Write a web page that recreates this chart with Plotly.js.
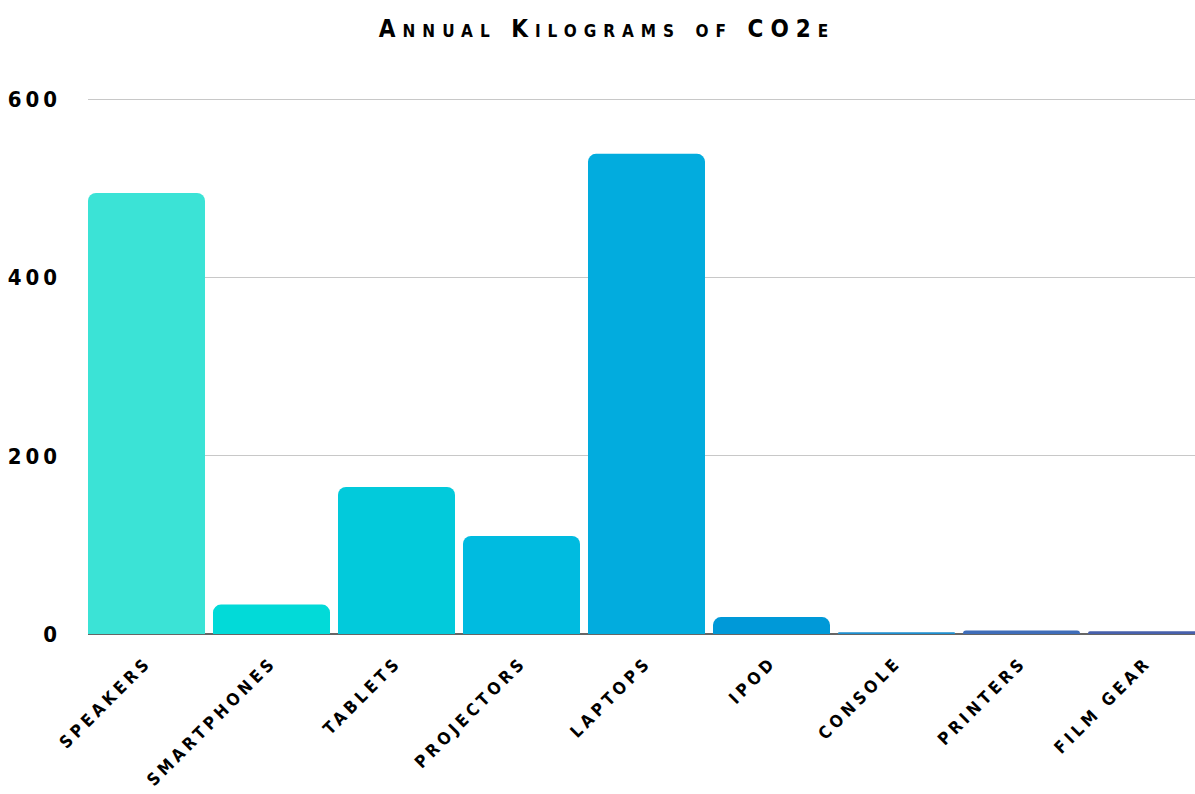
<!DOCTYPE html>
<html>
<head>
<meta charset="utf-8">
<script src="https://cdn.plot.ly/plotly-3.0.1.min.js"></script>
<style>
html,body{margin:0;padding:0;background:#fff;}
#chart{width:1195px;height:794px;}
.xtick text{letter-spacing:4px;}
.ytick text{letter-spacing:4px;}
.gtitle{letter-spacing:7px;}
</style>
</head>
<body>
<div id="chart"></div>
<script>
const categories = ["Speakers","Smartphones","Tablets","Projectors","Laptops","iPod","Console","Printers","Film gear"];
const values = [495, 33, 165, 110, 539, 19, 2, 4, 3];
const barColors = ["#3BE3D6","#02DAD8","#02CADB","#00BBE0","#02ACDE","#0099D8","#1E8FD0","#3F6DB9","#4760AC"];
const yTicks = [0, 200, 400, 600];
const titleText = "Annual Kilograms of CO2e";

const fontFamily = "'DejaVu Sans Condensed', 'Open Sans', sans-serif";

const data = [{
  type: "bar",
  x: categories,
  y: values,
  marker: { color: barColors, cornerradius: 8, line: { width: 0 } },
  hoverinfo: "x+y"
}];

const layout = {
  width: 1195,
  height: 794,
  paper_bgcolor: "#ffffff",
  plot_bgcolor: "#ffffff",
  margin: { l: 88, r: 0, t: 95, b: 160 },
  bargap: 0.064,
  title: {
    text: titleText,
    x: 0.508,
    xref: "container",
    xanchor: "center",
    y: 0.964,
    yanchor: "middle",
    font: { family: fontFamily, size: 24, color: "#000", weight: 700, variant: "small-caps" }
  },
  xaxis: {
    type: "category",
    range: [-0.468, 8.388],
    tickangle: -45,
    showgrid: false,
    showline: false,
    ticks: "",
    ticklabelstandoff: 14,
    tickfont: { family: fontFamily, size: 17, color: "#000", weight: 700, textcase: "upper" }
  },
  yaxis: {
    range: [0, 605],
    tickvals: yTicks,
    ticktext: yTicks.map(String),
    showgrid: true,
    gridcolor: "#c8c8c8",
    gridwidth: 1,
    zeroline: true,
    zerolinecolor: "#666666",
    zerolinewidth: 1.5,
    ticks: "",
    ticklabelstandoff: 26,
    tickfont: { family: fontFamily, size: 22, color: "#000", weight: 700 }
  },
  showlegend: false
};

Plotly.newPlot("chart", data, layout, { displayModeBar: false, staticPlot: true });
</script>
</body>
</html>
